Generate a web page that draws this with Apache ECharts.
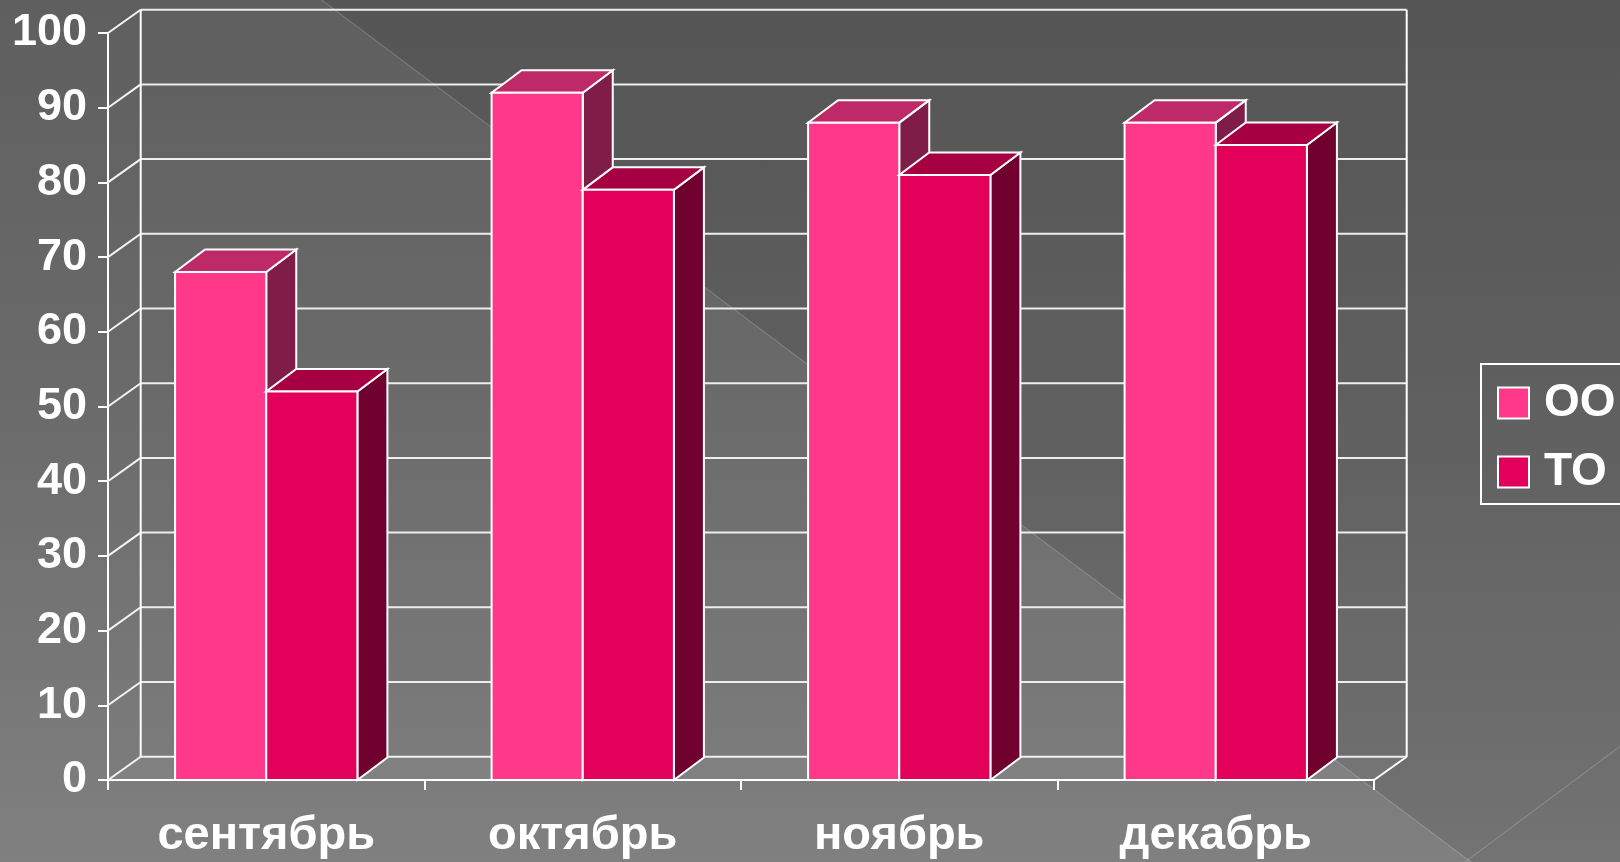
<!DOCTYPE html>
<html>
<head>
<meta charset="utf-8">
<script src="https://cdn.jsdelivr.net/npm/echarts@6/dist/echarts.min.js"></script>
<style>
html,body{margin:0;padding:0;}
#chart{width:1620px;height:862px;background:linear-gradient(to bottom,#5f5f5f 0%,#6a6a6a 45%,#808080 100%);}
</style>
</head>
<body>
<div id="chart"></div>
<script>
const categories = ['сентябрь', 'октябрь', 'ноябрь', 'декабрь'];
const seriesNames = ['ОО', 'ТО'];
const ooValues = [68, 92, 88, 88];
const toValues = [52, 79, 81, 85];
const yTicks = [0, 10, 20, 30, 40, 50, 60, 70, 80, 90, 100];

const WALL_DX = 32.7, WALL_DY = 23.3;
const BAR_DX = 30, BAR_DY = 22.5;
const FACES = [
  { front: '#ff388a', top: '#be2a68', side: '#801c48' },
  { front: '#e3005a', top: '#a60042', side: '#70002e' }
];
const EDGE = { stroke: '#ffffff', lineWidth: 2 };
const FONT = '"Liberation Sans", Arial, sans-serif';

function wallsRender(params, api) {
  const cs = params.coordSys;
  const x0 = cs.x, x1 = cs.x + cs.width;
  const children = [];
  const yb = api.coord([0, yTicks[0]])[1];
  const yt = api.coord([0, yTicks[yTicks.length - 1]])[1];
  yTicks.forEach(function (v) {
    const y = api.coord([0, v])[1];
    children.push({ type: 'line', shape: { x1: x0, y1: y, x2: x0 + WALL_DX, y2: y - WALL_DY }, style: { stroke: '#f4f4f4', lineWidth: 2 } });
    children.push({ type: 'line', shape: { x1: x0 + WALL_DX, y1: y - WALL_DY, x2: x1 + WALL_DX, y2: y - WALL_DY }, style: { stroke: '#eeeeee', lineWidth: 2 } });
  });
  children.push({ type: 'line', shape: { x1: x0 + WALL_DX, y1: yt - WALL_DY, x2: x0 + WALL_DX, y2: yb - WALL_DY }, style: { stroke: '#ffffff', lineWidth: 2 } });
  children.push({ type: 'line', shape: { x1: x1 + WALL_DX, y1: yt - WALL_DY, x2: x1 + WALL_DX, y2: yb - WALL_DY }, style: { stroke: '#ffffff', lineWidth: 2 } });
  children.push({ type: 'line', shape: { x1: x1, y1: yb, x2: x1 + WALL_DX, y2: yb - WALL_DY }, style: { stroke: '#ffffff', lineWidth: 2 } });
  children.push({ type: 'polygon', shape: { points: [[x0, yb], [x1, yb], [x1 + WALL_DX, yb - WALL_DY], [x0 + WALL_DX, yb - WALL_DY]] }, style: { fill: 'rgba(255,255,255,0.04)' }, z2: -1 });
  return { type: 'group', children: children };
}

function barRender(sideIdx) {
  return function (params, api) {
    const idx = api.value(0);
    const v = api.value(1);
    const c = api.coord([idx, v]);
    const b = api.coord([idx, 0]);
    const band = api.size([1, 0])[0];
    const w = band * 0.288;
    const x0 = sideIdx === 0 ? c[0] - w : c[0];
    const x1 = x0 + w;
    const yt = c[1], yb = b[1];
    const f = FACES[sideIdx];
    return {
      type: 'group',
      children: [
        { type: 'polygon', shape: { points: [[x1, yt], [x1 + BAR_DX, yt - BAR_DY], [x1 + BAR_DX, yb - BAR_DY], [x1, yb]] }, style: Object.assign({ fill: f.side }, EDGE) },
        { type: 'polygon', shape: { points: [[x0, yt], [x1, yt], [x1 + BAR_DX, yt - BAR_DY], [x0 + BAR_DX, yt - BAR_DY]] }, style: Object.assign({ fill: f.top }, EDGE) },
        { type: 'rect', shape: { x: x0, y: yt, width: w, height: yb - yt }, style: Object.assign({ fill: f.front }, EDGE) }
      ]
    };
  };
}

const chart = echarts.init(document.getElementById('chart'), null, { renderer: 'canvas' });
chart.setOption({
  animation: false,
  backgroundColor: 'transparent',
  graphic: [
    { type: 'polygon', z: -10, shape: { points: [[321.7, 0], [1620, 0], [1620, 973.5]] }, style: { fill: 'rgba(0,0,0,0.1)' } },
    { type: 'line', z: -9, shape: { x1: 321.7, y1: 0, x2: 1471, y2: 862 }, style: { stroke: 'rgba(255,255,255,0.16)', lineWidth: 1.2 } },
    { type: 'line', z: -9, shape: { x1: 1465, y1: 862, x2: 1620, y2: 746.5 }, style: { stroke: 'rgba(255,255,255,0.16)', lineWidth: 1.2 } }
  ],
  legend: {
    data: seriesNames,
    orient: 'vertical',
    left: 1481,
    top: 364,
    padding: [16, 24, 9, 16],
    borderColor: '#ffffff',
    borderWidth: 2,
    itemWidth: 31,
    itemHeight: 31,
    itemGap: 23,
    icon: 'rect',
    selectedMode: false,
    itemStyle: { borderColor: '#ffffff', borderWidth: 2 },
    textStyle: { color: '#ffffff', fontSize: 46, fontWeight: 'bold', fontFamily: FONT, lineHeight: 31, padding: [0, 0, 0, 10] }
  },
  grid: { left: 108, top: 33, width: 1266, height: 747 },
  xAxis: {
    type: 'category',
    data: categories,
    boundaryGap: true,
    axisLine: { lineStyle: { color: '#ffffff', width: 2 } },
    axisTick: { show: true, length: 10, lineStyle: { color: '#ffffff', width: 2 } },
    axisLabel: { color: '#ffffff', fontSize: 47, fontWeight: 'bold', fontFamily: FONT, margin: 33 },
    splitLine: { show: false }
  },
  yAxis: {
    type: 'value',
    min: 0,
    max: 100,
    interval: 10,
    axisLine: { show: true, lineStyle: { color: '#ffffff', width: 2 } },
    axisTick: { show: true, length: 10, lineStyle: { color: '#ffffff', width: 2 } },
    axisLabel: { color: '#ffffff', fontSize: 45, fontWeight: 'bold', fontFamily: FONT, margin: 21 },
    splitLine: { show: false }
  },
  series: [
    { type: 'custom', name: '_walls', renderItem: wallsRender, data: [[0, 0]], encode: { x: 0, y: 1 }, silent: true, clip: false, z: 1 },
    { type: 'custom', name: seriesNames[0], renderItem: barRender(0), data: ooValues.map(function (v, i) { return [i, v]; }), encode: { x: 0, y: 1 }, itemStyle: { color: FACES[0].front }, clip: false, z: 2 },
    { type: 'custom', name: seriesNames[1], renderItem: barRender(1), data: toValues.map(function (v, i) { return [i, v]; }), encode: { x: 0, y: 1 }, itemStyle: { color: FACES[1].front }, clip: false, z: 2 }
  ]
});
</script>
</body>
</html>
